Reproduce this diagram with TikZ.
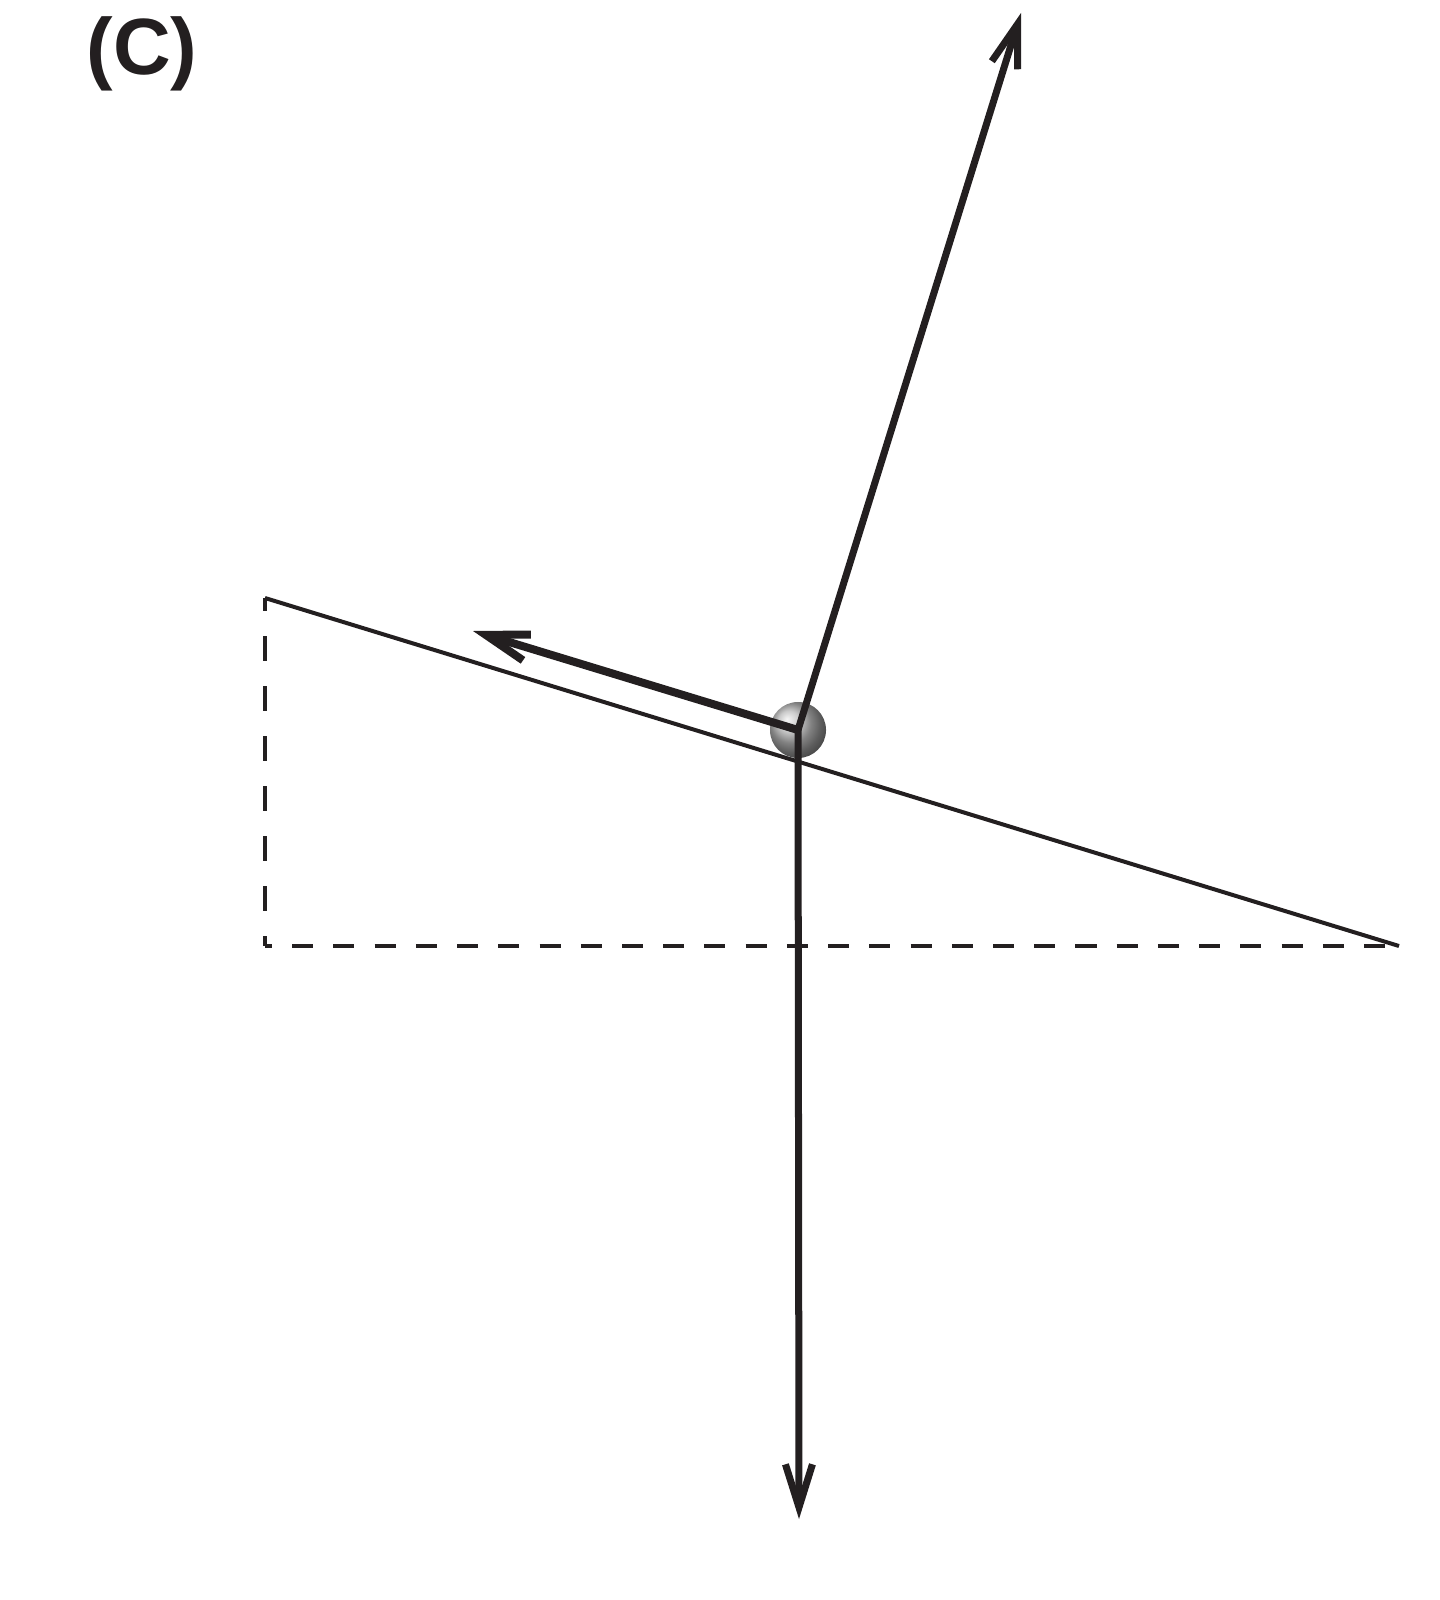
\documentclass[tikz,border=0pt]{standalone}
\usepackage{fontspec}
\setmainfont{Liberation Sans}
\usetikzlibrary{arrows.meta}
\definecolor{ink}{RGB}{35,31,32}
\tikzset{
  vec/.style={draw=ink,line width=0.07cm,-{Straight Barb[length=0.43cm,width=0.27cm]}},
  helper/.style={draw=ink,line width=0.04cm}
}
\begin{document}
\begin{tikzpicture}[x=0.01cm,y=-0.01cm]
\path[use as bounding box] (0,0) rectangle (1440,1600);

\node[anchor=base west,inner sep=0pt,text=ink,font=\fontsize{22.7}{27}\selectfont\bfseries] (lbl) at (86,75) {(C)};

\coordinate (top) at (265,598);
\coordinate (corner) at (265,946);
\coordinate (foot) at (1399,946);
\path[helper] (top) -- (foot);
\path[helper,dash pattern=on 0.25cm off 0.25cm,dash phase=0.12cm] (top) -- (corner);
\path[helper,dash pattern=on 0.21cm off 0.202cm,dash phase=0.14cm] (corner) -- (foot);

\node[circle,minimum size=0.56cm,inner sep=0pt,shading=ball,ball color=gray!55] (ball) at (798,730) {};
\coordinate (normal) at (1021,13);
\coordinate (weight) at (799,1519);
\coordinate (slide) at (473,631);
\path[vec] (ball.center) -- (normal);
\path[vec] (ball.center) -- (weight);
\path[vec,line width=0.08cm] (ball.center) -- (slide);
\end{tikzpicture}
\end{document}
